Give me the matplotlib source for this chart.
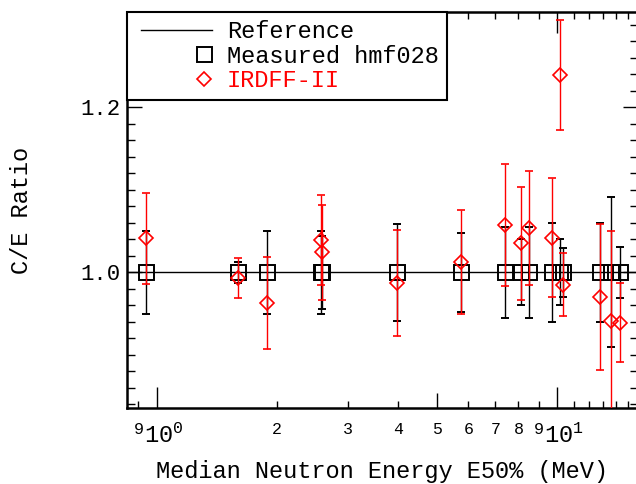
import numpy as np
import matplotlib
matplotlib.use("Agg")
import matplotlib.pyplot as plt
from matplotlib.lines import Line2D
from matplotlib.legend_handler import HandlerLine2D
from matplotlib.ticker import FixedLocator, FuncFormatter
from matplotlib.transforms import ScaledTranslation

plt.rcParams['font.family'] = ['Liberation Mono', 'DejaVu Sans Mono']
plt.rcParams['mathtext.fontset'] = 'custom'
plt.rcParams['mathtext.rm'] = 'Liberation Mono'

# median neutron energy (MeV) of each measured reaction
energy = [0.939, 1.592, 1.887, 2.57, 2.59, 3.99, 5.76, 7.40, 8.10, 8.48,
          9.68, 10.16, 10.36, 12.8, 13.63, 14.33]
# measured hmf028: C/E = 1 with experimental uncertainty
meas_ratio = [1.0] * len(energy)
meas_err = [0.050, 0.0125, 0.050, 0.050, 0.044, 0.059, 0.048, 0.055, 0.040, 0.055,
            0.060, 0.040, 0.030, 0.060, 0.091, 0.031]
# IRDFF-II C/E ratios
irdff_ratio = [1.041, 0.993, 0.963, 1.039, 1.024, 0.987, 1.013, 1.057, 1.035, 1.054,
               1.042, 1.239, 0.985, 0.970, 0.941, 0.939]
irdff_err = [0.055, 0.024, 0.056, 0.055, 0.058, 0.064, 0.063, 0.074, 0.068, 0.069,
             0.072, 0.067, 0.038, 0.088, 0.109, 0.048]

fig = plt.figure(figsize=(6.36, 4.84), dpi=100)
ax = fig.add_axes([127/636, 76/484, 511/636, 396/484])

ax.axhline(1.0, color="black", linewidth=1.0, zorder=1)
ax.errorbar(energy, meas_ratio, yerr=meas_err, fmt="s", ms=10.8, mfc="none",
            mec="black", mew=1.4, ecolor="black", elinewidth=1.0, capsize=3,
            capthick=1.0, zorder=2)
ax.errorbar(energy, irdff_ratio, yerr=irdff_err, fmt="D", ms=7.2, mfc="none",
            mec="red", mew=1.2, ecolor="red", elinewidth=1.0, capsize=3,
            capthick=1.0, zorder=3)

ax.set_xscale("log")
ax.set_xlim(0.843, 15.9)
ax.set_ylim(0.8355, 1.3155)

ax.xaxis.set_major_locator(FixedLocator([1, 10]))
ax.xaxis.set_major_formatter(FuncFormatter(lambda v, p: r"$\mathregular{10^{%d}}$" % round(np.log10(v))))
minor_x = [0.9, 2, 3, 4, 5, 6, 7, 8, 9, 11, 12, 13, 14, 15]
ax.xaxis.set_minor_locator(FixedLocator(minor_x))
ax.xaxis.set_minor_formatter(FuncFormatter(lambda v, p: "%d" % round(v * 10) if v < 1 else ("%d" % round(v) if v < 10 else "")))

ax.yaxis.set_major_locator(FixedLocator([1.0, 1.2]))
ax.yaxis.set_major_formatter(FuncFormatter(lambda v, p: "%.1f" % v))
ax.yaxis.set_minor_locator(FixedLocator(np.arange(0.84, 1.32, 0.02)))

ax.tick_params(which="both", direction="in", top=True, right=True, width=1.0)
ax.tick_params(axis="x", which="major", length=15, labelsize=17, pad=8)
ax.tick_params(axis="x", which="minor", length=5, labelsize=12, pad=10)
ax.tick_params(axis="y", which="major", length=11, labelsize=16, pad=5)
ax.tick_params(axis="y", which="minor", length=5.5)

# medium tick at 5
for t, loc in zip(ax.xaxis.get_minor_ticks(len(minor_x)), minor_x):
    if loc == 5:
        t.tick1line.set_markersize(11)
        t.tick2line.set_markersize(11)

# decade labels: "10" centred on the tick, exponent hanging to the right
shift = ScaledTranslation(5/72, -3/72, fig.dpi_scale_trans)
for t in ax.xaxis.get_major_ticks(2):
    t.label1.set_transform(t.label1.get_transform() + shift)

for s in ax.spines.values():
    s.set_linewidth(1.8)

ax.set_xlabel("Median Neutron Energy E50% (MeV)", fontsize=17, labelpad=9)
ax.set_ylabel("C/E Ratio", fontsize=17, labelpad=34)


class LineHandle(HandlerLine2D):
    # line starts a bit in from the handle box
    def get_xdata(self, legend, xdescent, ydescent, width, height, fontsize):
        x0 = -xdescent + 0.07 * width
        x1 = -xdescent + width
        return np.array([x0, x1]), np.array([(x0 + x1) / 2])


class MarkerHandle(HandlerLine2D):
    # marker sits near the right end of the handle box
    def get_xdata(self, legend, xdescent, ydescent, width, height, fontsize):
        m = -xdescent + 0.9 * width
        return np.array([m, m]), np.array([m])


h_ref = Line2D([], [], color="black", linewidth=1.0)
h_meas = Line2D([], [], linestyle="none", marker="s", ms=10.8, mfc="none", mec="black", mew=1.4)
h_irdff = Line2D([], [], linestyle="none", marker="D", ms=7.2, mfc="none", mec="red", mew=1.2)
leg = ax.legend([h_ref, h_meas, h_irdff], ["Reference", "Measured hmf028", "IRDFF-II"],
                loc="upper left", bbox_to_anchor=(0, 1), borderaxespad=0, fontsize=17,
                handlelength=3.24, handletextpad=0.64, borderpad=0.36, labelspacing=0.05,
                fancybox=False, framealpha=1, edgecolor="black", numpoints=1,
                handler_map={h_ref: LineHandle(), h_meas: MarkerHandle(),
                             h_irdff: MarkerHandle()})
leg.get_frame().set_linewidth(1.5)
leg.get_texts()[2].set_color("red")

fig.savefig("out.png", dpi=100)
